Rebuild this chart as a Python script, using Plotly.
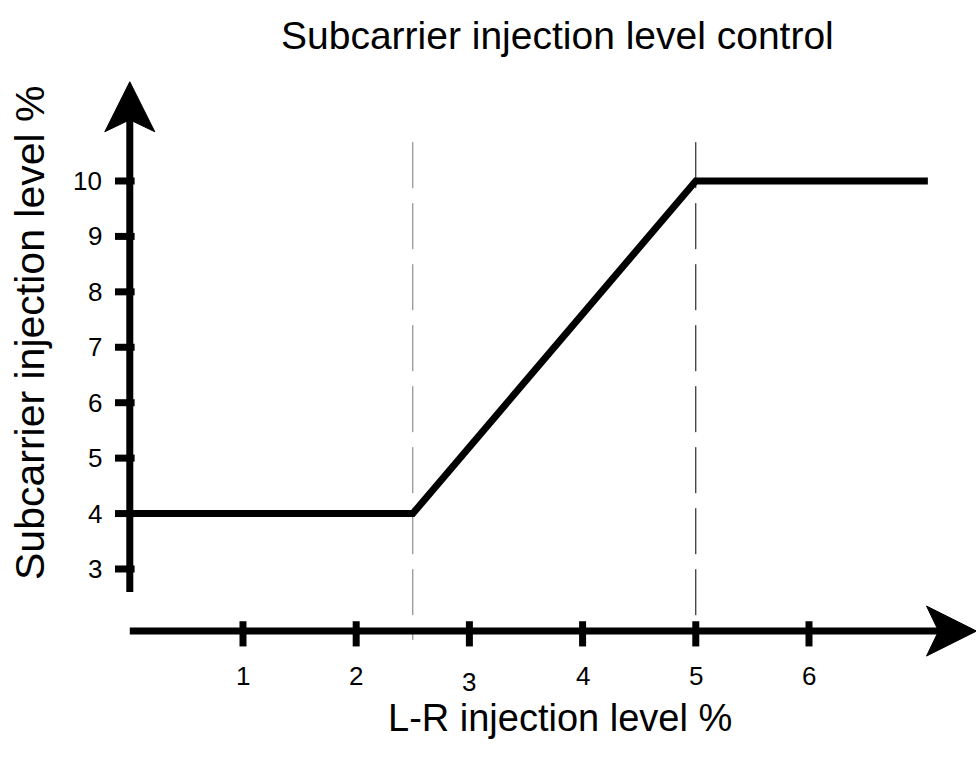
import plotly.graph_objects as go

# ---- data ----
lr_level = [0, 2.5, 5, 7.05]          # L-R injection level %
sub_level = [4, 4, 10, 10]            # Subcarrier injection level %
thresholds = [2.5, 5]                 # dashed guide lines
x_ticks = [1, 2, 3, 4, 5, 6]
x_tick_labels = ["1", "2", "3", "4", "5", "6"]
y_ticks = [3, 4, 5, 6, 7, 8, 9, 10]
y_tick_labels = ["3", "4", "5", "6", "7", "8", "9", "10"]

title = "Subcarrier injection level control"
x_title = "L-R injection level %"
y_title = "Subcarrier injection level %"

# ---- layout constants ----
W, H = 976, 758
X_RANGE = [-1.1466, 7.4754]
Y_RANGE = [-0.41, 13.265]
AXIS_X = 0.0        # where the vertical axis sits
AXIS_Y = 1.88       # where the horizontal axis sits
X_TIP = 7.48
Y_TIP = 11.79
Y_BOTTOM = 2.585
DASH_TOP, DASH_BOTTOM = 10.70, 1.72
FONT = "Liberation Sans, Arial, sans-serif"
LW = 7

fig = go.Figure()

# dashed guides
for i, t in enumerate(thresholds):
    fig.add_trace(go.Scatter(
        x=[t, t], y=[DASH_TOP, DASH_BOTTOM], mode="lines",
        line=dict(color="#777777" if i == 0 else "#000000", width=1, dash="46px,15px"),
        hoverinfo="skip", showlegend=False))

# axes lines
fig.add_trace(go.Scatter(x=[AXIS_X, X_TIP - 0.2], y=[AXIS_Y, AXIS_Y], mode="lines",
                         line=dict(color="black", width=LW), showlegend=False, hoverinfo="skip"))
fig.add_trace(go.Scatter(x=[AXIS_X, AXIS_X], y=[Y_BOTTOM, Y_TIP - 0.6], mode="lines",
                         line=dict(color="black", width=LW), showlegend=False, hoverinfo="skip"))

# tick marks
fig.add_trace(go.Scatter(x=x_ticks, y=[AXIS_Y - 0.05] * len(x_ticks), mode="markers",
                         marker=dict(symbol="line-ns", size=18, line=dict(color="black", width=LW)),
                         showlegend=False, hoverinfo="skip"))
fig.add_trace(go.Scatter(x=[AXIS_X - 0.044] * len(y_ticks), y=y_ticks, mode="markers",
                         marker=dict(symbol="line-ew", size=14, line=dict(color="black", width=LW)),
                         showlegend=False, hoverinfo="skip"))

# main curve
fig.add_trace(go.Scatter(x=lr_level, y=sub_level, mode="lines",
                         line=dict(color="black", width=LW), showlegend=False))

# arrowheads (pixel-sized paths anchored at axis tips)
fig.add_shape(type="path", xref="x", yref="y", xsizemode="pixel", ysizemode="pixel",
              xanchor=AXIS_X, yanchor=Y_TIP,
              path="M0,0 L-25,-50 L0,-38 L25,-50 Z",
              fillcolor="black", line=dict(color="black", width=1))
fig.add_shape(type="path", xref="x", yref="y", xsizemode="pixel", ysizemode="pixel",
              xanchor=X_TIP, yanchor=AXIS_Y,
              path="M0,0 L-50,25 L-38,0 L-50,-25 Z",
              fillcolor="black", line=dict(color="black", width=1))

annotations = []
for xv, lab in zip(x_ticks, x_tick_labels):
    annotations.append(dict(x=xv, y=AXIS_Y, xref="x", yref="y", text=lab, showarrow=False,
                            xanchor="center", yanchor="middle",
                            yshift=-(45 if lab != "3" else 51),
                            font=dict(size=26, family=FONT, color="black")))
for yv, lab in zip(y_ticks, y_tick_labels):
    annotations.append(dict(x=AXIS_X, y=yv, xref="x", yref="y", text=lab, showarrow=False,
                            xanchor="right", yanchor="middle", xshift=-26,
                            font=dict(size=26, family=FONT, color="black")))
annotations.append(dict(x=557 / W, y=1 - 35 / H, xref="paper", yref="paper", text=title,
                        xanchor="center", yanchor="middle",
                        showarrow=False, font=dict(size=39, family=FONT, color="black")))
annotations.append(dict(x=560 / W, y=1 - 718 / H, xref="paper", yref="paper", text=x_title,
                        xanchor="center", yanchor="middle",
                        showarrow=False, font=dict(size=38, family=FONT, color="black")))
annotations.append(dict(x=30 / W, y=1 - 333 / H, xref="paper", yref="paper", text=y_title,
                        xanchor="center", yanchor="middle",
                        showarrow=False, textangle=-90, font=dict(size=41, family=FONT, color="black")))

fig.update_layout(
    width=W, height=H, margin=dict(l=0, r=0, t=0, b=0),
    paper_bgcolor="white", plot_bgcolor="white",
    xaxis=dict(range=X_RANGE, visible=False, fixedrange=True),
    yaxis=dict(range=Y_RANGE, visible=False, fixedrange=True),
    annotations=annotations, showlegend=False,
)

fig.write_html("out.html", config={"displayModeBar": False},
               post_script="document.body.style.margin='0';document.body.style.overflow='hidden';")
